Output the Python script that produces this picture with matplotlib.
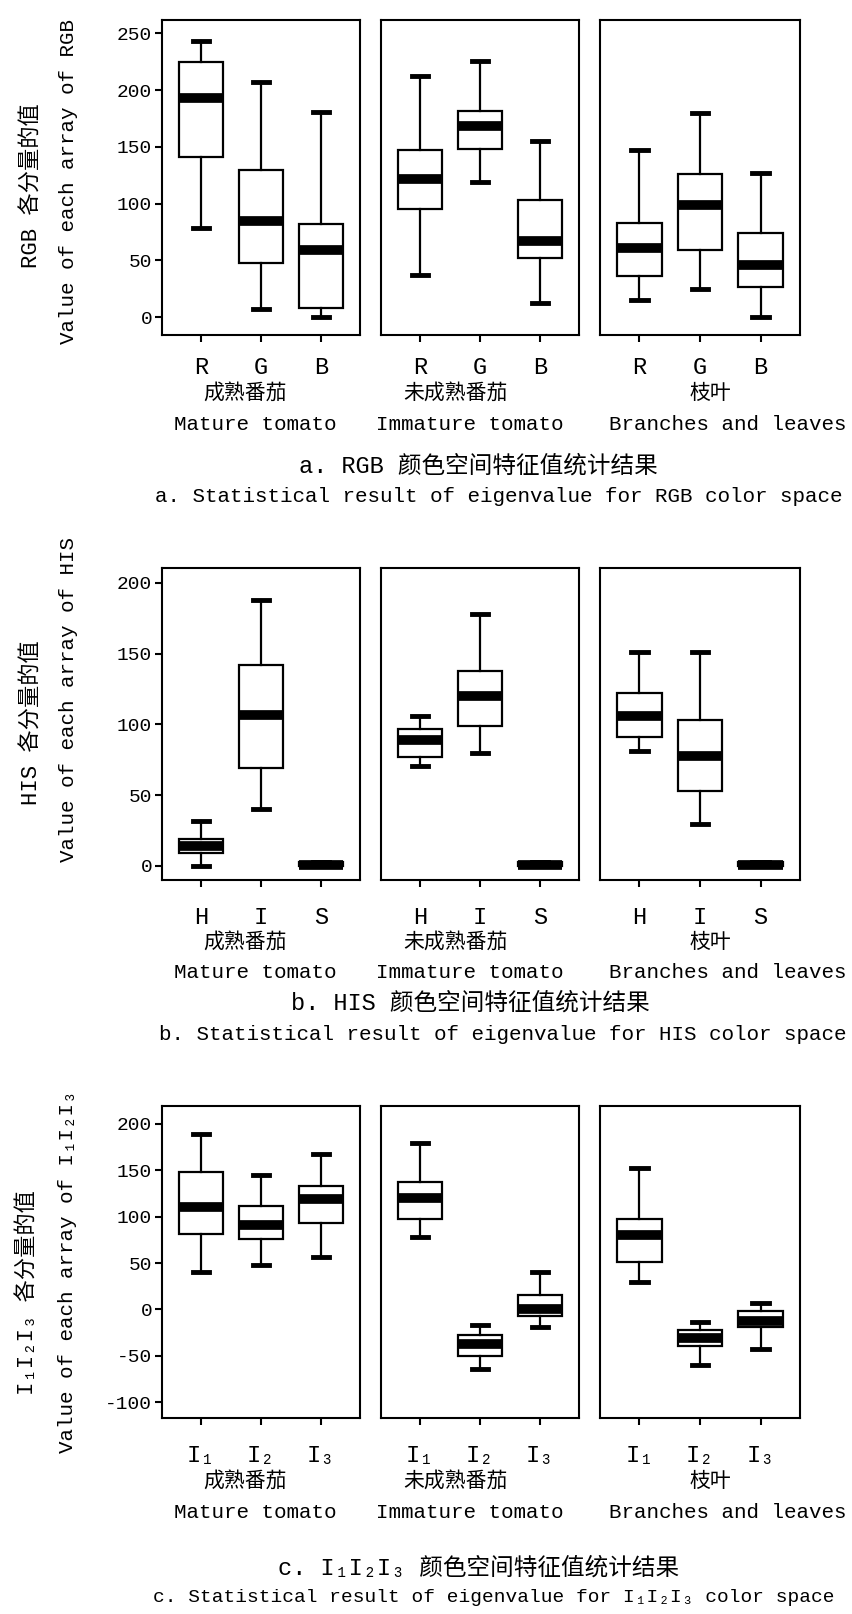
import matplotlib
matplotlib.use("Agg")
from matplotlib import pyplot as plt

# five-number summaries: (whisker low, Q1, median, Q3, whisker high)
groups_cn = ["成熟番茄", "未成熟番茄", "枝叶"]
groups_en = ["Mature tomato", "Immature tomato", "Branches and leaves"]

rgb_channels = ["R", "G", "B"]
rgb_mature = [(79, 141, 193, 225, 243), (7, 48, 85, 130, 207), (0, 8, 59, 82, 181)]
rgb_immature = [(37, 95, 122, 147, 212), (119, 148, 168, 182, 226), (13, 52, 67, 103, 155)]
rgb_leaves = [(15, 36, 61, 83, 147), (25, 59, 99, 126, 180), (0, 27, 46, 74, 127)]

his_channels = ["H", "I", "S"]
his_mature = [(0, 9, 14, 19, 32), (40, 69, 107, 142, 188), (0, 0, 1, 3, 3)]
his_immature = [(71, 77, 89, 97, 106), (80, 99, 120, 138, 178), (0, 0, 1, 3, 3)]
his_leaves = [(81, 91, 106, 122, 151), (30, 53, 78, 103, 151), (0, 0, 1, 3, 3)]

iii_channels = ["I₁", "I₂", "I₃"]
iii_mature = [(40, 81, 110, 148, 189), (48, 76, 91, 112, 145), (57, 93, 119, 133, 168)]
iii_immature = [(78, 97, 120, 137, 179), (-64, -50, -37, -28, -17), (-19, -7, 0, 16, 40)]
iii_leaves = [(30, 51, 80, 97, 152), (-60, -40, -31, -22, -14), (-43, -19, -13, -2, 7)]

rgb_yticks = [0, 50, 100, 150, 200, 250]
his_yticks = [0, 50, 100, 150, 200]
iii_yticks = [-100, -50, 0, 50, 100, 150, 200]

W, H = 853, 1614
MONO = ["Liberation Mono", "DejaVu Sans Mono", "Noto Sans CJK SC"]
MIX = ["Liberation Mono", "Noto Sans CJK SC", "DejaVu Sans Mono"]
CJK = ["Noto Sans CJK SC", "DejaVu Sans"]

fig = plt.figure(figsize=(W / 100, H / 100), dpi=100)


def fx(x):
    return x / W


def fy(y):
    return 1 - y / H


def px_box(l, t, r, b):
    return [l / W, 1 - b / H, (r - l) / W, (b - t) / H]


panel_x = [(162, 360), (381, 579), (600, 800)]

rows = [
    dict(data=[rgb_mature, rgb_immature, rgb_leaves], chans=rgb_channels, yticks=rgb_yticks,
         top=20, bottom=335, ylim=(-15.6, 261.7), tick_y=362, cn_y=393, en_y=425,
         cap_cn=("a. RGB 颜色空间特征值统计结果", 478, 466),
         cap_en=("a. Statistical result of eigenvalue for RGB color space", 499, 497, 15),
         ylab_cn=("RGB 各分量的值", 32, 186), ylab_en=("Value of each array of RGB", 69, 181)),
    dict(data=[his_mature, his_immature, his_leaves], chans=his_channels, yticks=his_yticks,
         top=568, bottom=880, ylim=(-9.9, 210.6), tick_y=912, cn_y=942, en_y=973,
         cap_cn=("b. HIS 颜色空间特征值统计结果", 470, 1003),
         cap_en=("b. Statistical result of eigenvalue for HIS color space", 503, 1034, 15),
         ylab_cn=("HIS 各分量的值", 32, 723), ylab_en=("Value of each array of HIS", 69, 700)),
    dict(data=[iii_mature, iii_immature, iii_leaves], chans=iii_channels, yticks=iii_yticks,
         top=1106, bottom=1418, ylim=(-117.2, 219.4), tick_y=1450, cn_y=1481, en_y=1513,
         cap_cn=("c. I₁I₂I₃ 颜色空间特征值统计结果", 479, 1568),
         cap_en=("c. Statistical result of eigenvalue for I₁I₂I₃ color space", 494, 1598, 14),
         ylab_cn=("I₁I₂I₃ 各分量的值", 28, 1293), ylab_en=("Value of each array of I₁I₂I₃", 68, 1272)),
]

cn_x = [245, 455, 710]
en_x = [255, 470, 728]

for row in rows:
    for k, (l, r) in enumerate(panel_x):
        ax = fig.add_axes(px_box(l, row["top"], r, row["bottom"]))
        stats = [dict(whislo=s[0], q1=s[1], med=s[2], q3=s[3], whishi=s[4], label=c)
                 for s, c in zip(row["data"][k], row["chans"])]
        ax.bxp(stats, positions=[1, 2, 3], widths=0.73, capwidths=0.27,
               showfliers=False, patch_artist=True,
               boxprops=dict(facecolor="white", edgecolor="black", linewidth=1.6),
               whiskerprops=dict(color="black", linewidth=1.6),
               capprops=dict(color="black", linewidth=3.5),
               medianprops=dict(color="black", linewidth=7, solid_capstyle="butt"))
        ax.set_xlim(0.35, 3.65)
        ax.set_ylim(*row["ylim"])
        for sp in ax.spines.values():
            sp.set_linewidth(1.5)
        pad = (row["tick_y"] - row["bottom"]) * 0.72 - 5 * 0.72 - 6
        ax.tick_params(axis="x", direction="out", length=5, width=1.5, pad=pad)
        ax.set_xticks([1, 2, 3])
        ax.set_xticklabels(row["chans"], fontsize=17, family=MONO)
        if k == 0:
            ax.set_yticks(row["yticks"])
            ax.set_yticklabels([str(v) for v in row["yticks"]], fontsize=14, family=MONO)
            ax.tick_params(axis="y", direction="out", length=5, width=1.5, pad=2)
        else:
            ax.set_yticks([])

        fig.text(fx(cn_x[k]), fy(row["cn_y"]), groups_cn[k], fontsize=15, family=CJK,
                 ha="center", va="center")
        fig.text(fx(en_x[k]), fy(row["en_y"]), groups_en[k], fontsize=15, family=MONO,
                 ha="center", va="center")

    t, x, y = row["cap_cn"]
    fig.text(fx(x), fy(y), t, fontsize=17, family=MIX, ha="center", va="center")
    t, x, y, fs = row["cap_en"]
    fig.text(fx(x), fy(y), t, fontsize=fs, family=MONO, ha="center", va="center")
    t, x, y = row["ylab_cn"]
    fig.text(fx(x), fy(y), t, fontsize=16, family=MIX, rotation=90, ha="center", va="center")
    t, x, y = row["ylab_en"]
    fig.text(fx(x), fy(y), t, fontsize=15, family=MONO, rotation=90, ha="center", va="center")

fig.savefig("out.png", dpi=100, facecolor="white")
